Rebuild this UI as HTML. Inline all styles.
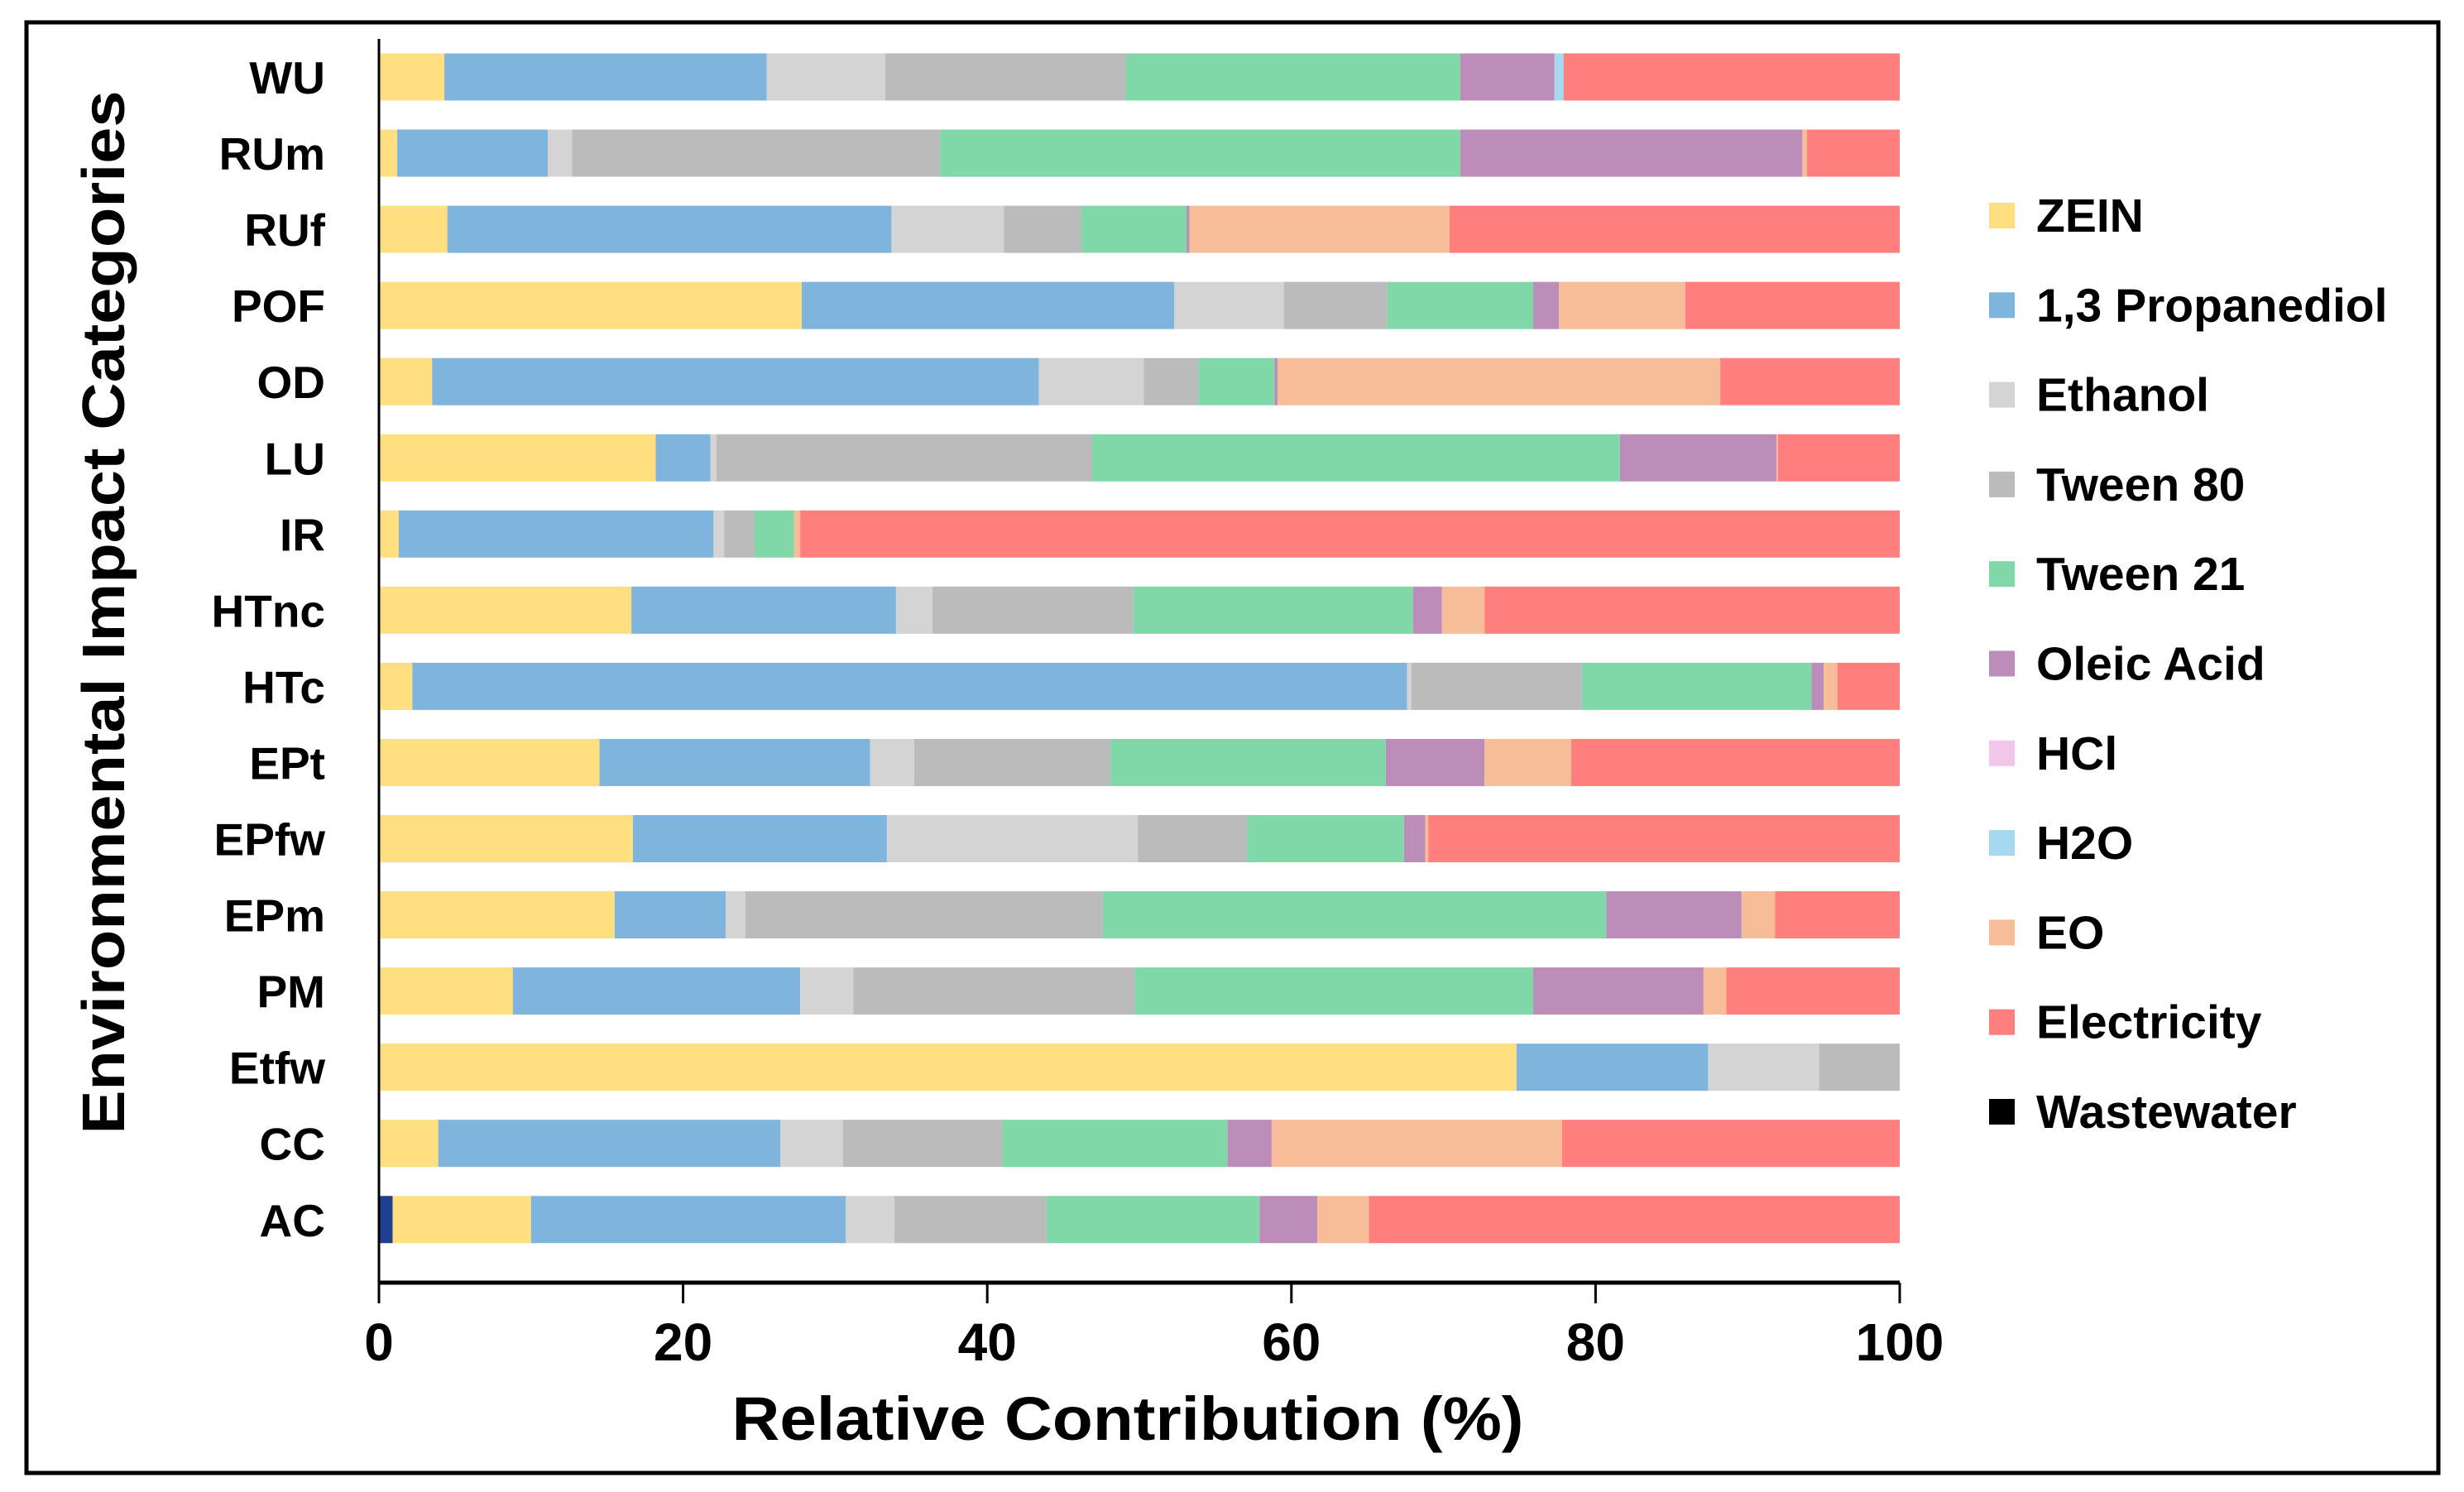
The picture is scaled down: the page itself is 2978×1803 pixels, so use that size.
<!DOCTYPE html>
<html><head><meta charset="utf-8">
<style>
html,body{margin:0;padding:0;background:#fff;}
svg{display:block;font-family:"Liberation Sans",sans-serif;font-weight:bold;}
</style></head>
<body>
<svg id="chart" width="2978" height="1803" viewBox="0 0 2978 1803" xmlns="http://www.w3.org/2000/svg">
<rect x="32" y="27" width="2915" height="1753" fill="#fff" stroke="#000" stroke-width="5"/>
<g id="bars"></g>
<g id="axes"></g>
<g id="legend"></g>
<text transform="translate(150,740) rotate(-90)" text-anchor="middle" font-size="72" textLength="1261" lengthAdjust="spacingAndGlyphs">Environmental Impact Categories</text>
<text x="1363" y="1740" text-anchor="middle" font-size="74" textLength="957" lengthAdjust="spacingAndGlyphs">Relative Contribution (%)</text>
</svg>
<script>
const categories = ["WU","RUm","RUf","POF","OD","LU","IR","HTnc","HTc","EPt","EPfw","EPm","PM","Etfw","CC","AC"];
const seriesNames = ["Wastewater","ZEIN","1,3 Propanediol","Ethanol","Tween 80","Tween 21","Oleic Acid","HCl","H2O","EO","Electricity"];
const wastewater = [0,0,0,0,0,0,0,0,0,0,0,0,0,0,0,0.9];
const zein = [4.3,1.2,4.5,27.8,3.5,18.2,1.3,16.6,2.2,14.5,16.7,15.5,8.8,74.8,3.9,9.1];
const propanediol = [21.2,9.9,29.2,24.5,39.9,3.6,20.7,17.4,65.4,17.8,16.7,7.3,18.9,12.6,22.5,20.7];
const ethanol = [7.8,1.6,7.4,7.2,6.9,0.4,0.7,2.4,0.3,2.9,16.5,1.3,3.5,7.3,4.1,3.2];
const tween80 = [15.8,24.2,5.1,6.8,3.6,24.7,2.0,13.2,11.2,12.9,7.2,23.5,18.5,5.3,10.5,10.0];
const tween21 = [22.0,34.2,6.9,9.6,5.0,34.7,2.6,18.4,15.1,18.1,10.3,33.1,26.2,0,14.8,14.0];
const oleic = [6.2,22.5,0.2,1.7,0.2,10.3,0,1.9,0.8,6.5,1.4,8.9,11.2,0,2.9,3.8];
const hcl = [0,0,0,0,0,0,0,0,0,0,0,0,0,0,0,0];
const h2o = [0.6,0,0,0,0,0,0,0,0,0,0,0,0,0,0,0];
const eo = [0,0.3,17.1,8.3,29.1,0.1,0.4,2.8,0.9,5.7,0.2,2.2,1.5,0,19.1,3.4];
const electricity = [22.1,6.1,29.6,14.1,11.8,8.0,72.3,27.3,4.1,21.6,31.0,8.2,11.4,0,22.2,34.9];
const xTicks = [0,20,40,60,80,100];
const legendOrder = ["ZEIN","1,3 Propanediol","Ethanol","Tween 80","Tween 21","Oleic Acid","HCl","H2O","EO","Electricity","Wastewater"];

const seriesData = [wastewater,zein,propanediol,ethanol,tween80,tween21,oleic,hcl,h2o,eo,electricity];
const colors = {"Wastewater":"#1f3f8f","ZEIN":"#FFDF80","1,3 Propanediol":"#7FB5DD","Ethanol":"#D4D4D4","Tween 80":"#BBBBBB","Tween 21":"#80D8A8","Oleic Acid":"#BC8DB8","HCl":"#F2C6EA","H2O":"#A6D8F0","EO":"#F7BD98","Electricity":"#FF7F7F"};
const NS="http://www.w3.org/2000/svg";
const X0=458, X1=2296, Y0=93, DY=92.05, BH=57, AXY=1550;
const xs = v => X0 + (X1-X0)*v/100;
const yc = i => Y0 + i*DY;
function mk(tag, attrs, parent){const e=document.createElementNS(NS,tag);for(const k in attrs)e.setAttribute(k,attrs[k]);parent.appendChild(e);return e;}
const bars=document.getElementById('bars'), axes=document.getElementById('axes'), legend=document.getElementById('legend');

categories.forEach((c,i)=>{
  let cum=0;
  seriesData.forEach((arr,s)=>{
    const v=arr[i];
    if(v>0){
      const r=mk('rect',{x:xs(cum),y:yc(i)-BH/2,width:xs(cum+v)-xs(cum),height:BH,fill:colors[seriesNames[s]]},bars);
      
      
    }
    cum+=v;
  });
  const t=mk('text',{x:393,y:yc(i)+20,'text-anchor':'end','font-size':55},axes);
  t.textContent=c;
  
  
});

const yl=mk('line',{x1:X0,y1:47,x2:X0,y2:AXY,stroke:'#000','stroke-width':3},axes);


const xl=mk('line',{x1:X0,y1:AXY,x2:X1,y2:AXY,stroke:'#000','stroke-width':5},axes);


xTicks.forEach(v=>{
  const tk=mk('line',{x1:xs(v),y1:AXY,x2:xs(v),y2:AXY+25,stroke:'#000','stroke-width':3},axes);
  
  
  const tl=mk('text',{x:xs(v),y:1644,'text-anchor':'middle','font-size':64},axes);
  tl.textContent=v;
  
  
});

legendOrder.forEach((n,i)=>{
  const y=260+i*108.3;
  const sw=mk('rect',{x:2404,y:y-15,width:31,height:31,fill:n==="Wastewater"?"#000":colors[n]},legend);
  
  
  const lt=mk('text',{x:2461,y:y+20,'font-size':57},legend);
  lt.textContent=n;
  
  
});
</script>
</body></html>
